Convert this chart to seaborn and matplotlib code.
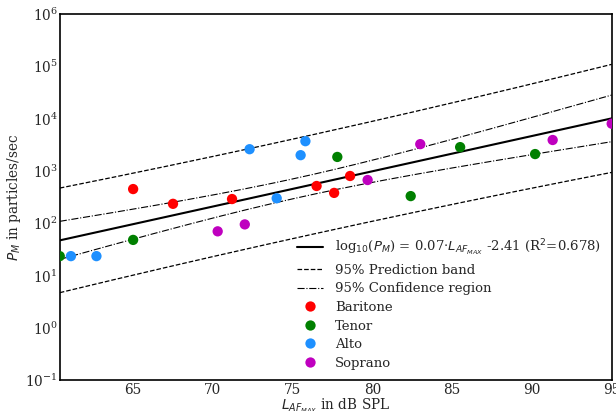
import matplotlib
matplotlib.use("Agg")
import matplotlib.pyplot as plt
import numpy as np
import pandas as pd
import seaborn as sns

# sound level (dB SPL) and particle emission rate per voice type
baritone_x = [65.0, 67.5, 71.2, 76.5, 77.6, 78.6]
baritone_y = [450, 235, 290, 515, 380, 800]
tenor_x = [60.4, 65.0, 77.8, 82.4, 85.5, 90.2]
tenor_y = [23.5, 48, 1850, 330, 2850, 2100]
alto_x = [61.1, 62.7, 72.3, 74.0, 75.5, 75.8]
alto_y = [23.5, 23.5, 2600, 300, 2000, 3700]
soprano_x = [70.3, 72.0, 79.7, 83.0, 91.3, 95.0]
soprano_y = [70, 95, 670, 3250, 3900, 8000]

voices = ["Baritone", "Tenor", "Alto", "Soprano"]
colors = ["r", "g", "dodgerblue", "m"]

df = pd.DataFrame({
    "L": baritone_x + tenor_x + alto_x + soprano_x,
    "P": baritone_y + tenor_y + alto_y + soprano_y,
    "voice": sum([[v] * 6 for v in voices], []),
})

# linear fit of log10(P) against level, with 95% bands
x = df["L"].values
ly = np.log10(df["P"].values)
n = len(x)
b, a = np.polyfit(x, ly, 1)
s = np.sqrt(np.sum((ly - (a + b * x)) ** 2) / (n - 2))
t = 2.074  # t(0.975, 22)
xm = x.mean()
sxx = np.sum((x - xm) ** 2)

xs = np.linspace(x.min(), x.max(), 200)
fit = a + b * xs
conf = t * s * np.sqrt(1 / n + (xs - xm) ** 2 / sxx)
pred = t * s * np.sqrt(1 + 1 / n + (xs - xm) ** 2 / sxx)

sns.set_style("white")
plt.rcParams["font.family"] = ["DejaVu Serif"]
plt.rcParams["font.size"] = 9.5

fig, ax = plt.subplots(figsize=(6.16, 4.11), dpi=100)
fig.subplots_adjust(left=0.097, right=0.993, top=0.966, bottom=0.075)

ax.plot(xs, 10 ** fit, color="k", lw=1.5,
        label=r"log$_{10}$($P_M$) = 0.07$\cdot L_{AF_{MAX}}$ -2.41 (R$^2$=0.678)")
ax.plot(xs, 10 ** (fit + pred), "k--", lw=0.9, label="95% Prediction band")
ax.plot(xs, 10 ** (fit - pred), "k--", lw=0.9)
ax.plot(xs, 10 ** (fit + conf), "k-.", lw=0.8, label="95% Confidence region")
ax.plot(xs, 10 ** (fit - conf), "k-.", lw=0.8)

sns.scatterplot(data=df, x="L", y="P", hue="voice", hue_order=voices,
                palette=colors, s=55, linewidth=0, ax=ax, zorder=3)

ax.set_yscale("log")
ax.set_ylim(1e-1, 1e6)
ax.set_xlim(x.min(), x.max())
ax.set_xticks([65, 70, 75, 80, 85, 90, 95])
ax.tick_params(length=0, labelsize=9.8)
ax.tick_params(axis="x", pad=2)
ax.tick_params(axis="y", pad=1.5)
for sp in ax.spines.values():
    sp.set_color("k")
    sp.set_linewidth(1.2)

ax.set_xlabel(r"$L_{AF_{MAX}}$ in dB SPL", fontsize=9.8, labelpad=0)
ax.set_ylabel(r"$P_M$ in particles/sec", fontsize=9.8, labelpad=2)

ax.legend(loc="lower right", frameon=False, fontsize=9.5,
          handlelength=2.0, handletextpad=0.9, labelspacing=0.42,
          borderaxespad=0.4)

fig.savefig("out.png", dpi=100)
